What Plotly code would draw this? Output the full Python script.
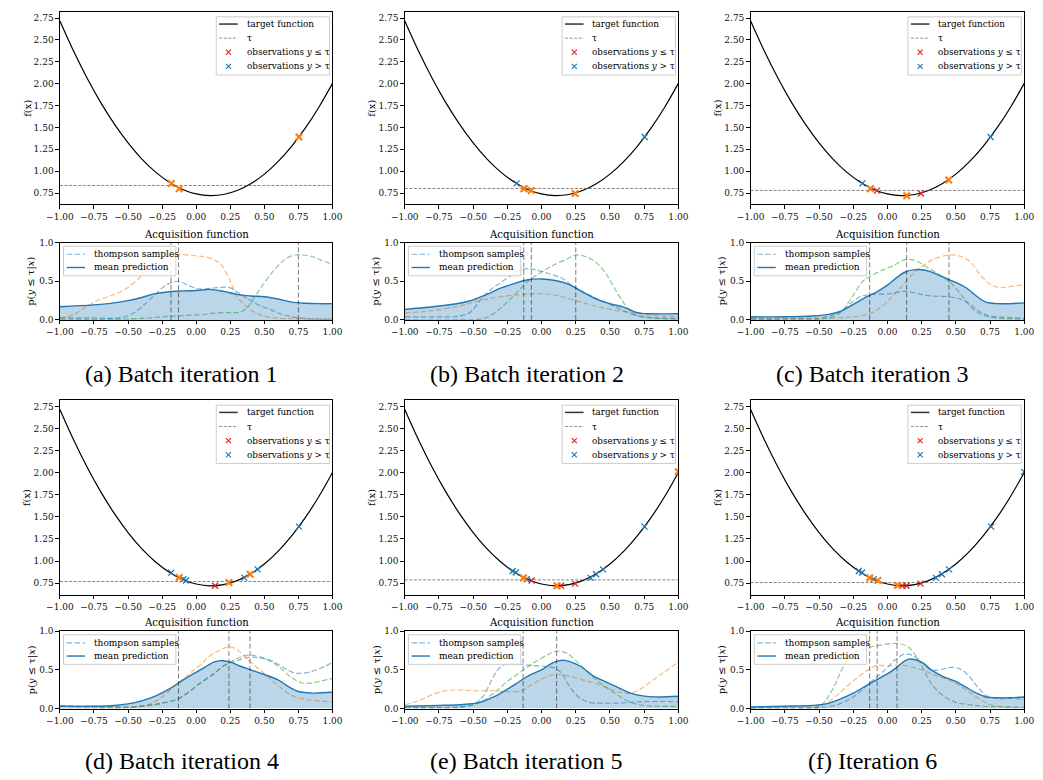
import plotly.graph_objects as go

W, H = 1043, 780
SERIF = "DejaVu Serif"
CAPTION_FONT = "Liberation Serif"

BLUE = "#1f77b4"
ORANGE = "#ff7f0e"
GREEN = "#2ca02c"
RED = "#d62728"

# ---------------- data ----------------
target_x = [-1.0, -0.9, -0.8, -0.7, -0.6, -0.5, -0.4, -0.3, -0.2, -0.1, 0.0,
            0.1, 0.2, 0.3, 0.4, 0.5, 0.6, 0.7, 0.8, 0.9, 1.0]
target_y = [2.716, 2.373, 2.062, 1.783, 1.537, 1.323, 1.141, 0.992, 0.876, 0.791, 0.740,
            0.720, 0.733, 0.779, 0.856, 0.966, 1.109, 1.284, 1.491, 1.731, 2.003]

captions = ["(a) Batch iteration 1", "(b) Batch iteration 2", "(c) Batch iteration 3",
            "(d) Batch iteration 4", "(e) Batch iteration 5", "(f) Iteration 6"]
tau_levels = [0.836, 0.802, 0.780, 0.769, 0.787, 0.757]

x_ticks = [-1.0, -0.75, -0.5, -0.25, 0.0, 0.25, 0.5, 0.75, 1.0]
x_tick_text = ["\u22121.00", "\u22120.75", "\u22120.50", "\u22120.25", "0.00", "0.25", "0.50", "0.75", "1.00"]
f_ticks = [0.75, 1.0, 1.25, 1.5, 1.75, 2.0, 2.25, 2.5, 2.75]
f_tick_text = ["0.75", "1.00", "1.25", "1.50", "1.75", "2.00", "2.25", "2.50", "2.75"]
p_ticks = [0.0, 0.5, 1.0]
p_tick_text = ["0.0", "0.5", "1.0"]

# observations (x, y) and the new batch for each iteration
obs_a = []
batch_a = [(-0.183, 0.86), (-0.125, 0.80), (0.754, 1.39)]
obs_b = [(-0.183, 0.86), (-0.125, 0.80), (0.754, 1.39)]
batch_b = [(-0.13, 0.80), (-0.076, 0.78), (0.245, 0.745)]
obs_c = [(-0.183, 0.86), (-0.125, 0.80), (-0.076, 0.778), (0.245, 0.745), (0.754, 1.39)]
batch_c = [(-0.124, 0.80), (0.141, 0.72), (0.448, 0.90)]
obs_d = [(-0.183, 0.869), (-0.094, 0.795), (-0.075, 0.78), (0.138, 0.72), (0.353, 0.813),
         (0.45, 0.906), (0.754, 1.39)]
batch_d = [(-0.125, 0.813), (0.24, 0.757), (0.396, 0.85)]
obs_e = [(-0.212, 0.888), (-0.188, 0.87), (-0.109, 0.795), (-0.073, 0.78), (0.142, 0.72),
         (0.245, 0.745), (0.358, 0.81), (0.399, 0.85), (0.449, 0.906), (0.753, 1.39)]
batch_e = [(-0.133, 0.81), (0.113, 0.72), (1.0, 2.01)]
obs_f = [(-0.209, 0.888), (-0.185, 0.87), (-0.101, 0.795), (0.11, 0.72), (0.139, 0.72),
         (0.242, 0.745), (0.355, 0.81), (0.398, 0.85), (0.451, 0.906), (0.758, 1.39), (1.0, 2.01)]
batch_f = [(-0.13, 0.81), (-0.07, 0.78), (0.074, 0.725)]

# acquisition function: mean prediction and three thompson samples
a_mean = [(-1.0, 0.17), (-0.75, 0.195), (-0.6, 0.22), (-0.5, 0.25), (-0.4, 0.29), (-0.3, 0.34),
          (-0.2, 0.365), (-0.1, 0.375), (0.0, 0.38), (0.1, 0.395), (0.2, 0.37), (0.3, 0.33),
          (0.4, 0.31), (0.5, 0.30), (0.6, 0.27), (0.7, 0.23), (0.8, 0.215), (0.9, 0.21), (1.0, 0.21)]
a_ts_blue = [(-1.0, 0.03), (-0.75, 0.025), (-0.55, 0.03), (-0.45, 0.1), (-0.38, 0.2), (-0.3, 0.33),
             (-0.22, 0.45), (-0.14, 0.50), (-0.05, 0.44), (0.02, 0.40), (0.12, 0.41), (0.24, 0.42),
             (0.3, 0.36), (0.38, 0.27), (0.45, 0.2), (0.55, 0.13), (0.65, 0.06), (0.8, 0.02), (1.0, 0.01)]
a_ts_orange = [(-1.0, 0.02), (-0.9, 0.07), (-0.8, 0.18), (-0.7, 0.27), (-0.6, 0.33), (-0.5, 0.42),
               (-0.4, 0.57), (-0.3, 0.75), (-0.2, 0.84), (-0.13, 0.845), (0.0, 0.83), (0.1, 0.8),
               (0.18, 0.72), (0.25, 0.5), (0.3, 0.3), (0.37, 0.17), (0.45, 0.08), (0.55, 0.03),
               (0.7, 0.015), (1.0, 0.01)]
a_ts_green = [(-1.0, 0.01), (-0.6, 0.01), (-0.4, 0.02), (-0.25, 0.04), (-0.1, 0.055), (0.05, 0.07),
              (0.15, 0.09), (0.25, 0.095), (0.32, 0.1), (0.38, 0.17), (0.43, 0.3), (0.5, 0.48),
              (0.58, 0.66), (0.65, 0.78), (0.72, 0.84), (0.78, 0.84), (0.85, 0.82), (0.92, 0.77), (1.0, 0.72)]
a_vlines = [-0.185, -0.13, 0.75]

b_mean = [(-1.0, 0.135), (-0.85, 0.16), (-0.7, 0.19), (-0.6, 0.215), (-0.5, 0.26), (-0.4, 0.33),
          (-0.3, 0.41), (-0.2, 0.47), (-0.1, 0.52), (0.0, 0.53), (0.1, 0.51), (0.2, 0.46), (0.25, 0.41),
          (0.3, 0.36), (0.4, 0.27), (0.5, 0.21), (0.6, 0.165), (0.7, 0.095), (0.8, 0.08), (0.9, 0.078), (1.0, 0.08)]
b_ts_blue = [(-1.0, 0.04), (-0.75, 0.04), (-0.6, 0.05), (-0.52, 0.1), (-0.45, 0.25), (-0.38, 0.38),
             (-0.3, 0.48), (-0.2, 0.6), (-0.12, 0.66), (-0.05, 0.65), (0.05, 0.6), (0.15, 0.54),
             (0.22, 0.45), (0.3, 0.37), (0.4, 0.28), (0.5, 0.2), (0.6, 0.12), (0.7, 0.05), (0.8, 0.03), (1.0, 0.02)]
b_ts_orange = [(-1.0, 0.09), (-0.8, 0.12), (-0.6, 0.18), (-0.45, 0.25), (-0.3, 0.3), (-0.15, 0.33),
               (-0.05, 0.34), (0.05, 0.335), (0.15, 0.3), (0.25, 0.25), (0.35, 0.2), (0.45, 0.155),
               (0.55, 0.12), (0.65, 0.1), (0.8, 0.06), (1.0, 0.04)]
b_ts_green = [(-1.0, 0.0), (-0.6, 0.0), (-0.45, 0.01), (-0.38, 0.05), (-0.3, 0.15), (-0.2, 0.32),
              (-0.1, 0.5), (0.0, 0.62), (0.1, 0.72), (0.2, 0.8), (0.25, 0.84), (0.32, 0.82), (0.4, 0.74),
              (0.47, 0.6), (0.53, 0.42), (0.6, 0.22), (0.66, 0.1), (0.72, 0.05), (0.85, 0.02), (1.0, 0.01)]
b_vlines = [-0.13, -0.075, 0.25]

c_mean = [(-1.0, 0.04), (-0.75, 0.04), (-0.55, 0.05), (-0.42, 0.075), (-0.33, 0.12), (-0.25, 0.2),
          (-0.15, 0.3), (-0.08, 0.36), (0.0, 0.45), (0.07, 0.55), (0.13, 0.62), (0.2, 0.65), (0.27, 0.645),
          (0.35, 0.6), (0.45, 0.52), (0.52, 0.47), (0.58, 0.41), (0.65, 0.31), (0.72, 0.23), (0.8, 0.21),
          (0.9, 0.21), (1.0, 0.22)]
c_ts_blue = [(-1.0, 0.02), (-0.6, 0.02), (-0.45, 0.04), (-0.35, 0.1), (-0.28, 0.2), (-0.2, 0.3),
             (-0.12, 0.33), (0.0, 0.335), (0.13, 0.37), (0.22, 0.34), (0.32, 0.31), (0.45, 0.3),
             (0.55, 0.26), (0.62, 0.18), (0.68, 0.1), (0.75, 0.05), (0.85, 0.035), (1.0, 0.02)]
c_ts_orange = [(-1.0, 0.02), (-0.6, 0.02), (-0.4, 0.025), (-0.25, 0.04), (-0.13, 0.08), (-0.05, 0.16),
               (0.05, 0.33), (0.14, 0.5), (0.2, 0.62), (0.26, 0.7), (0.33, 0.78), (0.45, 0.84),
               (0.52, 0.83), (0.6, 0.76), (0.68, 0.58), (0.75, 0.46), (0.82, 0.42), (0.9, 0.43), (1.0, 0.46)]
c_ts_green = [(-1.0, 0.01), (-0.5, 0.01), (-0.38, 0.05), (-0.32, 0.14), (-0.25, 0.32), (-0.18, 0.5),
              (-0.12, 0.57), (-0.03, 0.65), (0.04, 0.7), (0.13, 0.78), (0.2, 0.77), (0.3, 0.67),
              (0.4, 0.56), (0.48, 0.45), (0.55, 0.3), (0.62, 0.15), (0.7, 0.06), (0.8, 0.025), (1.0, 0.01)]
c_vlines = [-0.13, 0.14, 0.45]

d_mean = [(-1.0, 0.03), (-0.75, 0.03), (-0.6, 0.04), (-0.5, 0.06), (-0.4, 0.1), (-0.3, 0.16),
          (-0.2, 0.25), (-0.13, 0.33), (-0.05, 0.42), (0.05, 0.52), (0.13, 0.6), (0.18, 0.62),
          (0.25, 0.6), (0.32, 0.55), (0.4, 0.5), (0.5, 0.44), (0.6, 0.37), (0.68, 0.28), (0.75, 0.22),
          (0.85, 0.2), (1.0, 0.21)]
d_ts_blue = [(-1.0, 0.03), (-0.75, 0.02), (-0.5, 0.02), (-0.35, 0.04), (-0.25, 0.07), (-0.14, 0.12),
             (-0.05, 0.22), (0.03, 0.33), (0.13, 0.45), (0.2, 0.55), (0.3, 0.62), (0.38, 0.66),
             (0.45, 0.66), (0.55, 0.62), (0.65, 0.52), (0.72, 0.46), (0.8, 0.46), (0.88, 0.5),
             (0.95, 0.55), (1.0, 0.6)]
d_ts_orange = [(-1.0, 0.0), (-0.5, 0.01), (-0.35, 0.05), (-0.25, 0.15), (-0.14, 0.32), (-0.05, 0.45),
               (0.02, 0.55), (0.1, 0.68), (0.18, 0.76), (0.24, 0.8), (0.3, 0.76), (0.4, 0.6), (0.5, 0.45),
               (0.6, 0.3), (0.7, 0.17), (0.8, 0.12), (0.9, 0.1), (1.0, 0.09)]
d_ts_green = [(-1.0, 0.04), (-0.75, 0.03), (-0.5, 0.02), (-0.35, 0.04), (-0.25, 0.07), (-0.14, 0.12),
              (-0.05, 0.22), (0.03, 0.33), (0.13, 0.45), (0.2, 0.55), (0.28, 0.63), (0.35, 0.68),
              (0.4, 0.69), (0.5, 0.65), (0.6, 0.55), (0.7, 0.4), (0.78, 0.33), (0.85, 0.33),
              (0.93, 0.36), (1.0, 0.39)]
d_vlines = [-0.13, 0.24, 0.395]

e_mean = [(-1.0, 0.03), (-0.75, 0.04), (-0.6, 0.05), (-0.45, 0.08), (-0.35, 0.15), (-0.25, 0.25),
          (-0.17, 0.34), (-0.1, 0.42), (0.0, 0.5), (0.07, 0.58), (0.13, 0.62), (0.18, 0.62), (0.28, 0.55),
          (0.38, 0.42), (0.45, 0.36), (0.55, 0.28), (0.65, 0.2), (0.75, 0.16), (0.85, 0.15), (1.0, 0.16)]
e_ts_blue = [(-1.0, 0.02), (-0.6, 0.02), (-0.5, 0.05), (-0.43, 0.15), (-0.37, 0.35), (-0.32, 0.5),
             (-0.27, 0.57), (-0.2, 0.58), (-0.1, 0.56), (0.0, 0.55), (0.1, 0.52), (0.15, 0.45), (0.2, 0.3),
             (0.27, 0.15), (0.35, 0.08), (0.45, 0.07), (0.55, 0.07), (0.65, 0.08), (0.75, 0.09), (1.0, 0.09)]
e_ts_orange = [(-1.0, 0.05), (-0.9, 0.1), (-0.8, 0.18), (-0.7, 0.23), (-0.6, 0.24), (-0.5, 0.23),
               (-0.35, 0.23), (-0.25, 0.22), (-0.15, 0.23), (-0.08, 0.3), (0.0, 0.38), (0.07, 0.43),
               (0.12, 0.44), (0.2, 0.42), (0.3, 0.37), (0.4, 0.32), (0.48, 0.27), (0.55, 0.22),
               (0.65, 0.2), (0.72, 0.25), (0.8, 0.35), (0.88, 0.45), (1.0, 0.6)]
e_ts_green = [(-1.0, 0.01), (-0.7, 0.01), (-0.55, 0.03), (-0.45, 0.08), (-0.35, 0.2), (-0.25, 0.35),
              (-0.13, 0.5), (-0.05, 0.6), (0.05, 0.7), (0.1, 0.74), (0.18, 0.72), (0.25, 0.62),
              (0.35, 0.45), (0.45, 0.3), (0.55, 0.18), (0.65, 0.08), (0.75, 0.04), (1.0, 0.03)]
e_vlines = [-0.135, 0.11, 1.0]

f_mean = [(-1.0, 0.02), (-0.75, 0.03), (-0.55, 0.04), (-0.45, 0.06), (-0.35, 0.12), (-0.25, 0.2),
          (-0.15, 0.3), (-0.05, 0.4), (0.02, 0.47), (0.08, 0.55), (0.13, 0.62), (0.17, 0.64), (0.25, 0.6),
          (0.32, 0.5), (0.4, 0.42), (0.5, 0.35), (0.57, 0.28), (0.65, 0.2), (0.72, 0.15), (0.8, 0.14),
          (0.9, 0.14), (1.0, 0.15)]
f_ts_blue = [(-1.0, 0.01), (-0.55, 0.01), (-0.45, 0.02), (-0.35, 0.06), (-0.25, 0.15), (-0.15, 0.3),
             (-0.07, 0.42), (0.0, 0.53), (0.05, 0.62), (0.12, 0.7), (0.18, 0.69), (0.25, 0.6), (0.32, 0.5),
             (0.38, 0.5), (0.45, 0.53), (0.52, 0.52), (0.58, 0.45), (0.65, 0.3), (0.72, 0.17), (0.8, 0.13),
             (0.9, 0.13), (1.0, 0.12)]
f_ts_orange = [(-1.0, 0.01), (-0.6, 0.01), (-0.5, 0.03), (-0.42, 0.1), (-0.32, 0.25), (-0.22, 0.4),
               (-0.14, 0.5), (-0.07, 0.56), (0.0, 0.55), (0.07, 0.56), (0.15, 0.55), (0.25, 0.5),
               (0.35, 0.43), (0.45, 0.37), (0.55, 0.27), (0.65, 0.15), (0.75, 0.05), (0.85, 0.02), (1.0, 0.01)]
f_ts_green = [(-1.0, 0.0), (-0.55, 0.0), (-0.48, 0.05), (-0.4, 0.25), (-0.32, 0.55), (-0.25, 0.72),
              (-0.15, 0.78), (-0.05, 0.82), (0.07, 0.84), (0.15, 0.8), (0.22, 0.65), (0.28, 0.45),
              (0.33, 0.3), (0.42, 0.15), (0.5, 0.08), (0.6, 0.05), (0.7, 0.03), (1.0, 0.02)]
f_vlines = [-0.13, -0.075, 0.07]

panels = [
    (obs_a, batch_a, a_mean, a_ts_blue, a_ts_orange, a_ts_green, a_vlines),
    (obs_b, batch_b, b_mean, b_ts_blue, b_ts_orange, b_ts_green, b_vlines),
    (obs_c, batch_c, c_mean, c_ts_blue, c_ts_orange, c_ts_green, c_vlines),
    (obs_d, batch_d, d_mean, d_ts_blue, d_ts_orange, d_ts_green, d_vlines),
    (obs_e, batch_e, e_mean, e_ts_blue, e_ts_orange, e_ts_green, e_vlines),
    (obs_f, batch_f, f_mean, f_ts_blue, f_ts_orange, f_ts_green, f_vlines),
]

# ---------------- layout geometry (pixels) ----------------
COLS = [(47, 326), (400, 680), (754, 1034)]
ROWS = [{"top": (7, 202), "acq": (240.7, 319), "cap": 374},
        {"top": (400.4, 597.3), "acq": (634.3, 712.7), "cap": 766}]

TS_DASH = "5.5px,2.4px"
VLINE_DASH = "5px,2.5px"
TAU_DASH = "3px,1.6px"


def px_x(p):
    return p / W


def px_y(p):
    return 1 - p / H


TICK_FONT = dict(family=SERIF, size=9, color="#111")


def axis_common():
    return dict(showline=True, mirror=True, linecolor="black", linewidth=1,
                ticks="outside", ticklen=3.5, tickwidth=0.8, tickcolor="black",
                showgrid=False, zeroline=False, tickfont=TICK_FONT, fixedrange=True)


def xy(points):
    return [p[0] for p in points], [p[1] for p in points]


fig = go.Figure()
layout = dict(width=W, height=H, margin=dict(l=0, r=0, t=0, b=0),
              paper_bgcolor="white", plot_bgcolor="white", showlegend=False)
shapes = []
annotations = []


def hline(x0, x1, y, color, width, dash=None):
    line = dict(color=color, width=width)
    if dash:
        line["dash"] = dash
    shapes.append(dict(type="line", xref="paper", yref="paper",
                       x0=px_x(x0), x1=px_x(x1), y0=px_y(y), y1=px_y(y), line=line))


def xmark(cx, cy, color, r=2.6, width=1.1):
    for dy in (-r, r):
        shapes.append(dict(type="line", xref="paper", yref="paper",
                           x0=px_x(cx - r), x1=px_x(cx + r), y0=px_y(cy - dy), y1=px_y(cy + dy),
                           line=dict(color=color, width=width)))


def label(px, py, text, size=9, anchor="left", angle=0, family=SERIF):
    annotations.append(dict(x=px_x(px), y=px_y(py), xref="paper", yref="paper", text=text,
                            showarrow=False, xanchor=anchor, yanchor="middle", textangle=angle,
                            font=dict(family=family, size=size, color="black")))


def box(x0, y0, x1, y1):
    shapes.append(dict(type="rect", xref="paper", yref="paper",
                       x0=px_x(x0), x1=px_x(x1), y0=px_y(y1), y1=px_y(y0),
                       line=dict(color="#cccccc", width=1), fillcolor="rgba(255,255,255,0.8)"))


for i, (obs, batch, mean, ts_b, ts_o, ts_g, vlines) in enumerate(panels):
    row = ROWS[i // 3]
    c0, c1 = COLS[i % 3]
    t0, t1 = row["top"]
    q0, q1 = row["acq"]
    k_top = 2 * i + 1
    k_acq = 2 * i + 2
    xt = "x" if k_top == 1 else f"x{k_top}"
    yt = "y" if k_top == 1 else f"y{k_top}"
    xa = f"x{k_acq}"
    ya = f"y{k_acq}"
    tau = tau_levels[i]

    # axes
    layout["xaxis" if k_top == 1 else f"xaxis{k_top}"] = dict(
        axis_common(), domain=[px_x(c0), px_x(c1)], range=[-1, 1], anchor=yt,
        tickvals=x_ticks, ticktext=x_tick_text)
    layout["yaxis" if k_top == 1 else f"yaxis{k_top}"] = dict(
        axis_common(), domain=[px_y(t1), px_y(t0)], range=[0.62, 2.82], anchor=xt,
        tickvals=f_ticks, ticktext=f_tick_text)
    layout[f"xaxis{k_acq}"] = dict(
        axis_common(), domain=[px_x(c0), px_x(c1)], range=[-1, 1], anchor=ya,
        tickvals=x_ticks, ticktext=x_tick_text)
    layout[f"yaxis{k_acq}"] = dict(
        axis_common(), domain=[px_y(q1), px_y(q0)], range=[0, 1], anchor=xa,
        tickvals=p_ticks, ticktext=p_tick_text)

    # target function, threshold and observations
    fig.add_trace(go.Scatter(x=target_x, y=target_y, mode="lines", xaxis=xt, yaxis=yt,
                             line=dict(color="black", width=1.2, shape="spline"), hoverinfo="skip"))
    fig.add_trace(go.Scatter(x=[-1, 1], y=[tau, tau], mode="lines", xaxis=xt, yaxis=yt,
                             line=dict(color="#666", width=0.8, dash=TAU_DASH), hoverinfo="skip"))
    below = [p for p in obs if p[1] <= tau]
    above = [p for p in obs if p[1] > tau]
    for pts, col in ((below, RED), (above, BLUE)):
        if pts:
            px_, py_ = xy(pts)
            fig.add_trace(go.Scatter(x=px_, y=py_, mode="markers", xaxis=xt, yaxis=yt,
                                     marker=dict(symbol="x-thin", size=6, color=col,
                                                 line=dict(color=col, width=1.3)), hoverinfo="skip"))
    bx, by = xy(batch)
    fig.add_trace(go.Scatter(x=bx, y=by, mode="markers", xaxis=xt, yaxis=yt,
                             marker=dict(symbol="x-thin", size=6.5, color=ORANGE,
                                         line=dict(color=ORANGE, width=2.2)), hoverinfo="skip"))

    # acquisition function
    for pts, col in ((ts_b, "rgba(31,119,180,0.55)"), (ts_o, "rgba(255,127,14,0.55)"),
                     (ts_g, "rgba(44,160,44,0.55)")):
        sx, sy = xy(pts)
        fig.add_trace(go.Scatter(x=sx, y=sy, mode="lines", xaxis=xa, yaxis=ya,
                                 line=dict(color=col, width=1.2, dash=TS_DASH, shape="spline"),
                                 hoverinfo="skip"))
    mx, my = xy(mean)
    fig.add_trace(go.Scatter(x=mx, y=my, mode="lines", xaxis=xa, yaxis=ya, fill="tozeroy",
                             fillcolor="rgba(31,119,180,0.3)",
                             line=dict(color=BLUE, width=1.4, shape="spline"), hoverinfo="skip"))
    for v in vlines:
        fig.add_trace(go.Scatter(x=[v, v], y=[0, 1], mode="lines", xaxis=xa, yaxis=ya,
                                 line=dict(color="rgba(0,0,0,0.5)", width=1, dash=VLINE_DASH),
                                 hoverinfo="skip", cliponaxis=False))

    # axis labels and titles
    label(c0 - 34, (t0 + t1) / 2, "f(x)", size=10, anchor="center", angle=-90)
    label(c0 - 29, (q0 + q1) / 2, "p(<i>y</i> \u2264 \u03c4|<i>x</i>)", size=10, anchor="center", angle=-90)
    label((c0 + c1) / 2, q0 - 8.5, "Acquisition function", size=10.2, anchor="center")
    label((c0 + c1) / 2 - 15, row["cap"], captions[i], size=24, anchor="center", family=CAPTION_FONT)

    # legend of the target-function panel
    lx1 = c1 - 3
    lx0 = lx1 - 116
    ly0 = t0 + 5
    box(lx0, ly0, lx1, ly0 + 59)
    rows_y = [ly0 + 7.3, ly0 + 21.6, ly0 + 35.9, ly0 + 50.2]
    hline(lx0 + 3, lx0 + 22, rows_y[0], "#333", 1.5)
    hline(lx0 + 3, lx0 + 22, rows_y[1], "#777", 0.8, TAU_DASH)
    xmark(lx0 + 12.5, rows_y[2], RED)
    xmark(lx0 + 12.5, rows_y[3], BLUE)
    label(lx0 + 29, rows_y[0], "target function", size=8.8)
    label(lx0 + 29, rows_y[1], "\u03c4", size=8.8)
    label(lx0 + 29, rows_y[2], "observations <i>y</i> \u2264 \u03c4", size=8.8)
    label(lx0 + 29, rows_y[3], "observations <i>y</i> > \u03c4", size=8.8)

    # legend of the acquisition panel
    ax0 = c0 + 3.7
    ay0 = q0 + 3.6
    box(ax0, ay0, ax0 + 115, ay0 + 30)
    hline(ax0 + 3.3, ax0 + 22, ay0 + 8.2, "rgba(31,119,180,0.55)", 1.2, TS_DASH)
    hline(ax0 + 3.3, ax0 + 22, ay0 + 21.6, BLUE, 1.4)
    label(ax0 + 29, ay0 + 8.2, "thompson samples", size=9)
    label(ax0 + 29, ay0 + 21.6, "mean prediction", size=9)

layout["shapes"] = shapes
layout["annotations"] = annotations
fig.update_layout(**layout)
fig.write_html("out.html")
